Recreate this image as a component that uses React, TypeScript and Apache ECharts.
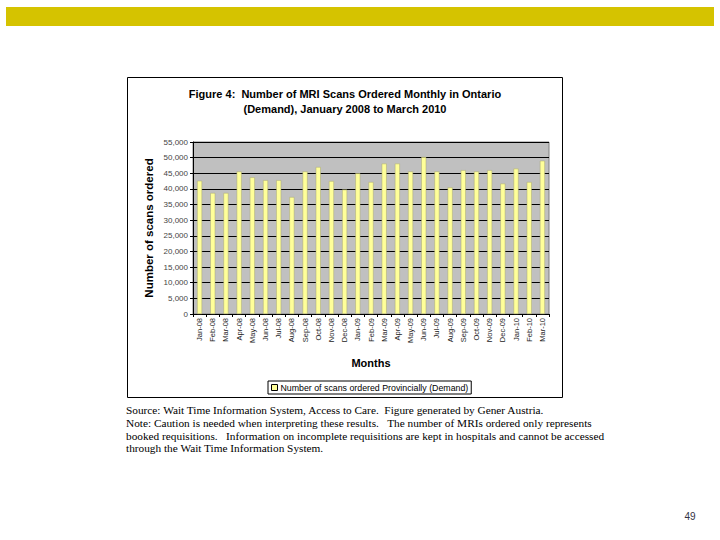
import React, { useEffect, useRef } from "react";
import * as echarts from "echarts";

const months = [
  "Jan-08", "Feb-08", "Mar-08", "Apr-08", "May-08", "Jun-08", "Jul-08", "Aug-08", "Sep-08",
  "Oct-08", "Nov-08", "Dec-08", "Jan-09", "Feb-09", "Mar-09", "Apr-09", "May-09", "Jun-09",
  "Jul-09", "Aug-09", "Sep-09", "Oct-09", "Nov-09", "Dec-09", "Jan-10", "Feb-10", "Mar-10",
];
const scansOrdered = [
  42600, 38700, 38700, 45600, 43700, 42800, 42800, 37400, 45600,
  47000, 42500, 39800, 45000, 42200, 48100, 48100, 45600, 50200,
  45600, 40500, 46000, 45600, 46000, 41700, 46500, 42200, 49000,
];
const seriesName = "Number of scans ordered Provincially (Demand)";
const titleLines = [
  "Figure 4:  Number of MRI Scans Ordered Monthly in Ontario",
  "(Demand), January 2008 to March 2010",
];
const sourceLines = [
  "Source: Wait Time Information System, Access to Care.  Figure generated by Gener Austria.",
  "Note: Caution is needed when interpreting these results.   The number of MRIs ordered only represents",
  "booked requisitions.   Information on incomplete requisitions are kept in hospitals and cannot be accessed",
  "through the Wait Time Information System.",
];
const yAxisTitle = "Number of scans ordered";
const xAxisTitle = "Months";
const pageNumber = "49";

const SANS = "'Liberation Sans', Arial, sans-serif";
const SERIF = "'Liberation Serif', 'Times New Roman', serif";

export default function App() {
  const ref = useRef<HTMLDivElement>(null);
  useEffect(() => {
    if (!ref.current) return;
    const chart = echarts.init(ref.current, undefined, { renderer: "svg" });
    const graphic: any[] = [
      { type: "rect", shape: { x: 6, y: 7, width: 708, height: 19 }, style: { fill: "#D5C300" }, silent: true },
      { type: "rect", shape: { x: 127.5, y: 77.5, width: 435, height: 320 }, style: { fill: "none", stroke: "#000", lineWidth: 1 }, silent: true },
      ...titleLines.map((t, i) => ({
        type: "text", x: 345, y: 94 + i * 15,
        style: { text: t, fontFamily: SANS, fontSize: 11, fontWeight: "bold", fill: "#000", align: "center", verticalAlign: "middle" },
      })),
      {
        type: "text", x: 149, y: 228, rotation: Math.PI / 2,
        style: { text: yAxisTitle, fontFamily: SANS, fontSize: 11.5, fontWeight: "bold", fill: "#000", align: "center", verticalAlign: "middle" },
      },
      {
        type: "text", x: 371, y: 363,
        style: { text: xAxisTitle, fontFamily: SANS, fontSize: 11, fontWeight: "bold", fill: "#000", align: "center", verticalAlign: "middle" },
      },
      ...sourceLines.map((t, i) => ({
        type: "text", x: 126, y: 410 + i * 12.8,
        style: { text: t, fontFamily: SERIF, fontSize: 11.3, fill: "#000", align: "left", verticalAlign: "middle" },
      })),
      {
        type: "text", x: 690, y: 516,
        style: { text: pageNumber, fontFamily: SANS, fontSize: 10, fill: "#333344", align: "center", verticalAlign: "middle" },
      },
    ];
    chart.setOption({
      animation: false,
      backgroundColor: "#fff",
      grid: {
        left: 193, top: 142, width: 356, height: 172,
        show: true, backgroundColor: "#C0C0C0", borderColor: "#808080", borderWidth: 1,
      },
      legend: {
        left: 268, top: 381,
        padding: [2, 3, 2, 3],
        borderColor: "#000", borderWidth: 1,
        itemWidth: 6, itemHeight: 6, icon: "rect", itemGap: 4,
        textStyle: { fontFamily: SANS, fontSize: 8.8, color: "#000", padding: [0, 0, 0, -2] },
        itemStyle: { borderColor: "#000", borderWidth: 1 },
        data: [seriesName],
      },
      xAxis: {
        type: "category",
        data: months,
        axisLine: { lineStyle: { color: "#000", width: 1 } },
        axisTick: { show: true, length: 3, lineStyle: { color: "#000" } },
        axisLabel: { rotate: 90, fontSize: 7.5, fontFamily: SANS, color: "#222", margin: 4, interval: 0 },
      },
      yAxis: {
        type: "value",
        min: 0, max: 55000, interval: 5000,
        axisLine: { show: true, lineStyle: { color: "#000", width: 1 } },
        axisTick: { show: true, length: 3, lineStyle: { color: "#000" } },
        axisLabel: {
          fontSize: 8, fontFamily: SANS, color: "#444", margin: 5,
          formatter: (v: number) => v.toLocaleString("en-US"),
        },
        splitLine: { show: true, lineStyle: { color: "#000", width: 1 } },
      },
      series: [
        {
          name: seriesName,
          type: "bar",
          data: scansOrdered,
          barWidth: 5,
          itemStyle: { color: "#FFFF99", borderColor: "#A8A870", borderWidth: 0.5 },
        },
      ],
      graphic,
    });
    return () => chart.dispose();
  }, []);
  return <div ref={ref} style={{ position: "absolute", left: 0, top: 0, width: 720, height: 540 }} />;
}
